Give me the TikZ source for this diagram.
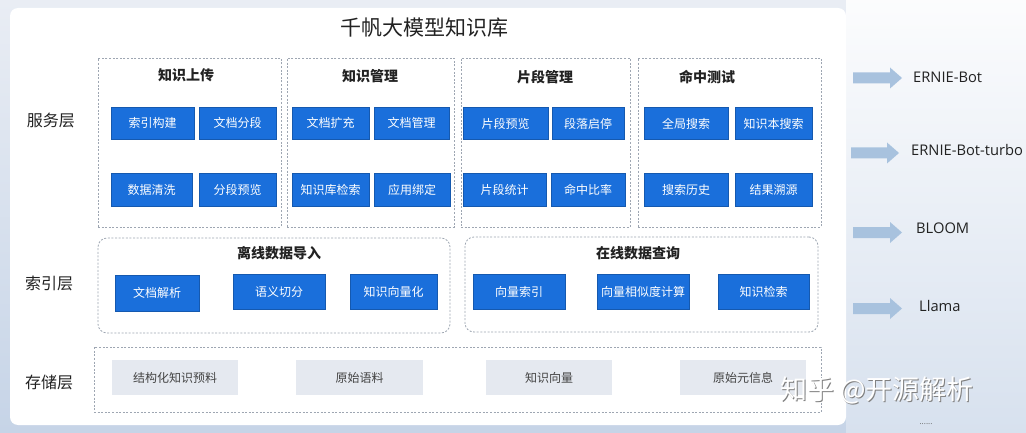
\documentclass[tikz,border=0pt]{standalone}
\usepackage{fontspec}
\setmainfont{Noto Sans CJK SC}
\newfontfamily\latinfont{Open Sans}
\definecolor{bgtop}{HTML}{E9EDF4}
\definecolor{bgbot}{HTML}{C6D4E7}
\definecolor{boxblue}{HTML}{1A6FDB}
\definecolor{boxgray}{HTML}{E5E9F0}
\definecolor{dashgray}{HTML}{9EA6B2}
\definecolor{arrowblue}{HTML}{A8C2DE}
\definecolor{txtdark}{HTML}{222222}
\tikzset{
  bluebox/.style={fill=boxblue, draw=boxblue!80!black, line width=0.4pt, text=white, inner sep=0pt, font=\fontsize{12}{12}\selectfont},
  graybox/.style={fill=boxgray, draw=none, text=txtdark!85, inner sep=0pt, font=\fontsize{12}{12}\selectfont},
  groupbox/.style={draw=dashgray, line width=0.8pt, dash pattern=on 2pt off 1.6pt, inner sep=0pt},
  grouptitle/.style={text=txtdark, inner sep=0pt, font=\fontsize{14}{14}\selectfont\bfseries},
  layerlabel/.style={text=txtdark, inner sep=0pt, font=\fontsize{16}{16}\selectfont},
  modellabel/.style={text=txtdark, inner sep=0pt, anchor=west, font=\latinfont\fontsize{14.7}{14.7}\selectfont},
  modelarrow/.style={fill=arrowblue, draw=none}
}
\begin{document}
\begin{tikzpicture}[x=1pt,y=-1pt]
\useasboundingbox (0,0) rectangle (1026,433);
% background
\shade[top color=bgtop, bottom color=bgbot] (0,0) rectangle (1026,433);
\shade[top color=white!85!bgtop, bottom color=bgbot!70!white] (846,0) rectangle (1026,433);
% main panel
\node[fill=white, rounded corners=8pt, minimum width=836, minimum height=417, inner sep=0pt] (panel) at (428,216.5) {};
% title
\node[inner sep=0pt, text=txtdark, font=\fontsize{21}{21}\selectfont] (title) at (424,28) {千帆大模型知识库};

% layer labels
\node[layerlabel] (lsvc) at (51,120) {服务层};
\node[layerlabel] (lidx) at (49,283) {索引层};
\node[layerlabel] (lsto) at (49,382) {存储层};

% ---------- service layer groups ----------
\node[groupbox, minimum width=183, minimum height=169] (g1) at (189.5,142.5) {};
\node[groupbox, minimum width=167, minimum height=169] (g2) at (370.5,142.5) {};
\node[groupbox, minimum width=169, minimum height=169] (g3) at (545.5,142.5) {};
\node[groupbox, minimum width=183, minimum height=169] (g4) at (729.5,142.5) {};
\node[grouptitle] (t1) at (186,75) {知识上传};
\node[grouptitle] (t2) at (370,76) {知识管理};
\node[grouptitle] (t3) at (545,77) {片段管理};
\node[grouptitle] (t4) at (707,77) {命中测试};

\node[bluebox, minimum width=83, minimum height=32] (b11) at (152.5,123) {索引构建};
\node[bluebox, minimum width=77, minimum height=32] (b12) at (237.5,123) {文档分段};
\node[bluebox, minimum width=81, minimum height=33] (b13) at (151.5,189.5) {数据清洗};
\node[bluebox, minimum width=77, minimum height=33] (b14) at (237.5,189.5) {分段预览};

\node[bluebox, minimum width=77, minimum height=32] (b21) at (330.5,123) {文档扩充};
\node[bluebox, minimum width=75, minimum height=32] (b22) at (411.5,123) {文档管理};
\node[bluebox, minimum width=77, minimum height=33] (b23) at (330.5,189.5) {知识库检索};
\node[bluebox, minimum width=76, minimum height=33] (b24) at (412,189.5) {应用绑定};

\node[bluebox, minimum width=85, minimum height=32] (b31) at (505.5,123.5) {片段预览};
\node[bluebox, minimum width=72, minimum height=32] (b32) at (588,123.5) {段落启停};
\node[bluebox, minimum width=83, minimum height=33] (b33) at (504.5,189.5) {片段统计};
\node[bluebox, minimum width=74, minimum height=33] (b34) at (588,189.5) {命中比率};

\node[bluebox, minimum width=84, minimum height=32] (b41) at (686,123.5) {全局搜索};
\node[bluebox, minimum width=77, minimum height=32] (b42) at (773.5,123.5) {知识本搜索};
\node[bluebox, minimum width=84, minimum height=33] (b43) at (686,189.5) {搜索历史};
\node[bluebox, minimum width=77, minimum height=33] (b44) at (773.5,189.5) {结果溯源};

% ---------- index layer ----------
\node[groupbox, rounded corners=9pt, minimum width=352, minimum height=95] (goff) at (274,285.5) {};
\node[groupbox, rounded corners=9pt, minimum width=353, minimum height=95] (gon) at (641.5,284.5) {};
\node[grouptitle] (toff) at (279,253) {离线数据导入};
\node[grouptitle] (ton) at (638,253) {在线数据查询};

\node[bluebox, minimum width=84, minimum height=36] (i1) at (157,293) {文档解析};
\node[bluebox, minimum width=92, minimum height=35] (i2) at (279,292) {语义切分};
\node[bluebox, minimum width=87, minimum height=35] (i3) at (393.5,292) {知识向量化};
\node[bluebox, minimum width=92, minimum height=35] (i4) at (519,291.5) {向量索引};
\node[bluebox, minimum width=92, minimum height=35] (i5) at (643,291.5) {向量相似度计算};
\node[bluebox, minimum width=91, minimum height=35] (i6) at (763.5,291.5) {知识检索};

% ---------- storage layer ----------
\node[groupbox, minimum width=727, minimum height=65] (gsto) at (457.5,379.5) {};
\node[graybox, minimum width=126, minimum height=35] (s1) at (175,377.5) {结构化知识预料};
\node[graybox, minimum width=127, minimum height=35] (s2) at (359.5,377.5) {原始语料};
\node[graybox, minimum width=126, minimum height=35] (s3) at (549,377.5) {知识向量};
\node[graybox, minimum width=126, minimum height=35] (s4) at (743,377.5) {原始元信息};

% ---------- models ----------
\node[modellabel] (m1) at (913,77) {ERNIE-Bot};
\node[modellabel] (m2) at (911,150) {ERNIE-Bot-turbo};
\node[modellabel] (m3) at (916,228) {BLOOM};
\node[modellabel] (m4) at (919,306) {Llama};
\node[inner sep=0pt, text=txtdark!70, font=\latinfont\fontsize{8}{8}\selectfont] (m6) at (926,424) {......};

\foreach \c/\xa/\xh/\xt in {78/853/890/902, 153/851/887/899, 232.5/853/890/902, 308.5/853/890/902}{
  \fill[modelarrow] (\xa,\c-5.5) -- (\xh,\c-5.5) -- (\xh,\c-10.5) -- (\xt,\c) -- (\xh,\c+10.5) -- (\xh,\c+5.5) -- (\xa,\c+5.5) -- cycle;
}

% watermark
\node[inner sep=0pt, anchor=west, text=black!50, font=\fontsize{27}{27}\selectfont] (wmshadow) at (781.2,391.2) {知乎 @开源解析};
\node[inner sep=0pt, anchor=west, text=white, font=\fontsize{27}{27}\selectfont] (wm) at (780,390) {知乎 @开源解析};
\end{tikzpicture}
\end{document}
